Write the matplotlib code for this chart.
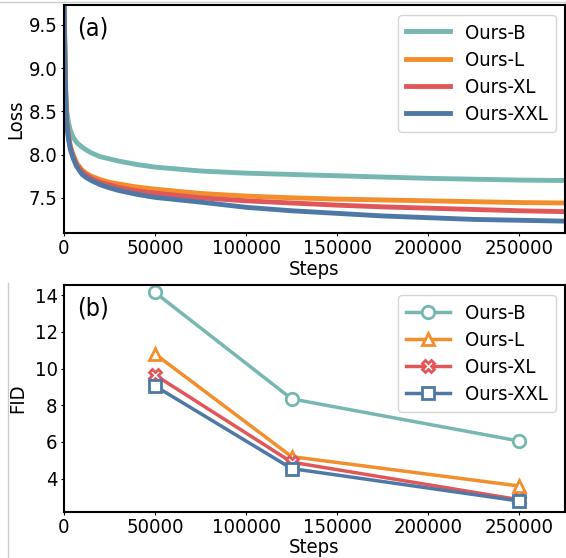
import matplotlib
matplotlib.use("Agg")
import matplotlib.pyplot as plt
from matplotlib.lines import Line2D

# ===== DATA =====
labels = ["Ours-B", "Ours-L", "Ours-XL", "Ours-XXL"]
colors = ["#76b7b2", "#f28e2b", "#e15759", "#4e79a7"]
markers = ["o", "^", "X", "s"]

# (a) training loss
loss_steps = [0, 500, 1000, 1500, 2500, 3500, 5000, 7000, 10000, 12500, 15000,
              20000, 25000, 30000, 40000, 50000, 75000, 100000, 125000, 150000,
              175000, 200000, 225000, 250000, 275000]
loss_b = [9.8, 9.3, 8.75, 8.5, 8.37, 8.28, 8.2, 8.14, 8.085, 8.05, 8.02,
          7.975, 7.95, 7.925, 7.885, 7.855, 7.81, 7.785, 7.77, 7.755, 7.74,
          7.725, 7.715, 7.705, 7.70]
loss_l = [9.8, 9.2, 8.65, 8.4, 8.22, 8.1, 8.0, 7.9, 7.82, 7.78, 7.75,
          7.71, 7.68, 7.66, 7.625, 7.60, 7.55, 7.52, 7.50, 7.485, 7.475,
          7.465, 7.455, 7.445, 7.44]
loss_xl = [9.8, 9.15, 8.62, 8.38, 8.2, 8.08, 7.98, 7.88, 7.80, 7.76, 7.725,
           7.68, 7.65, 7.62, 7.58, 7.555, 7.50, 7.465, 7.44, 7.415, 7.395,
           7.38, 7.365, 7.35, 7.34]
loss_xxl = [9.8, 9.1, 8.6, 8.36, 8.18, 8.06, 7.96, 7.86, 7.77, 7.73, 7.70,
            7.65, 7.615, 7.585, 7.54, 7.505, 7.45, 7.39, 7.35, 7.32, 7.29,
            7.27, 7.25, 7.24, 7.23]
losses = [loss_b, loss_l, loss_xl, loss_xxl]

# (b) FID at checkpoints
fid_steps = [50000, 125000, 250000]
fid_b = [14.15, 8.35, 6.05]
fid_l = [10.8, 5.2, 3.6]
fid_xl = [9.65, 4.9, 2.85]
fid_xxl = [9.05, 4.55, 2.78]
fids = [fid_b, fid_l, fid_xl, fid_xxl]

FS = 14.5
plt.rcParams["font.family"] = "DejaVu Sans"
plt.rcParams["font.stretch"] = "condensed"

fig = plt.figure(figsize=(5.66, 5.58), dpi=100)
ax1 = fig.add_axes([0.113, 0.582, 0.885, 0.409])
ax2 = fig.add_axes([0.113, 0.083, 0.885, 0.406])

legend_kw = dict(loc="upper right", fontsize=FS, handlelength=2.15,
                 handletextpad=0.75, borderpad=0.42, labelspacing=0.4,
                 borderaxespad=0, bbox_to_anchor=(0.982, 0.956))

# ===== (a) LOSS =====
for y, c, lab in zip(losses, colors, labels):
    ax1.plot(loss_steps, y, color=c, linewidth=3.5, label=lab)
ax1.set_xlim(0, 275000)
ax1.set_ylim(7.09, 9.73)
ax1.set_yticks([7.5, 8.0, 8.5, 9.0, 9.5])
ax1.set_xticks([0, 50000, 100000, 150000, 200000, 250000])
ax1.set_xlabel("Steps", fontsize=FS, labelpad=1)
ax1.set_ylabel("Loss", fontsize=FS, labelpad=3)
ax1.text(0.026, 0.95, "(a)", transform=ax1.transAxes, fontsize=18, va="top")
ax1.legend(**legend_kw)

# ===== (b) FID =====
for y, c, m, lab in zip(fids, colors, markers, labels):
    ax2.plot(fid_steps, y, color=c, linewidth=2.5, marker=m, markersize=9,
             markerfacecolor="white", markeredgecolor=c, markeredgewidth=2,
             label=lab)
ax2.set_xlim(0, 275000)
ax2.set_ylim(2.2, 14.55)
ax2.set_yticks([4, 6, 8, 10, 12, 14])
ax2.set_xticks([0, 50000, 100000, 150000, 200000, 250000])
ax2.set_xlabel("Steps", fontsize=FS, labelpad=1)
ax2.set_ylabel("FID", fontsize=FS, labelpad=5.5)
ax2.text(0.026, 0.95, "(b)", transform=ax2.transAxes, fontsize=18, va="top")
ax2.legend(**legend_kw)

for ax in (ax1, ax2):
    ax.tick_params(labelsize=FS, width=0.8, length=2, pad=2.5)
    for s in ax.spines.values():
        s.set_linewidth(1.5)

# thin grey crop edges seen in the reference
fig.add_artist(Line2D([0, 1], [0.996, 0.996], color="#cccccc", linewidth=1,
                      transform=fig.transFigure))
fig.add_artist(Line2D([0.015, 0.015], [0, 0.493], color="#cccccc", linewidth=1,
                      transform=fig.transFigure))

fig.savefig("out.png", dpi=100)
